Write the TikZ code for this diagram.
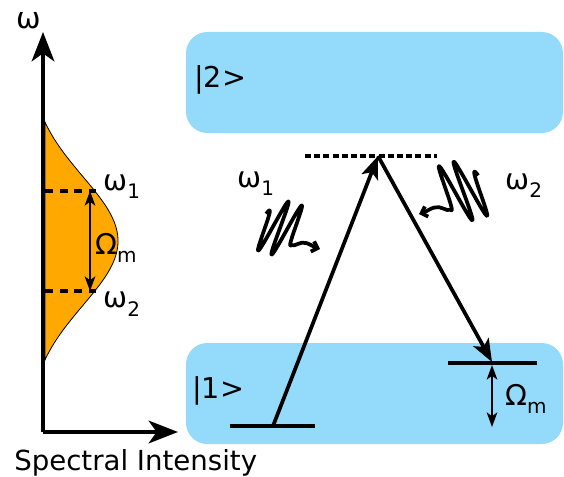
\documentclass[tikz,border=0pt]{standalone}
\usepackage{fontspec}
\setmainfont{DejaVu Sans}
\usetikzlibrary{arrows.meta}
\definecolor{levelblue}{RGB}{148,218,250}
\definecolor{specorange}{RGB}{255,168,0}
\newcommand{\lowsub}[1]{\raisebox{-6pt}{\fontsize{15}{15}\selectfont #1}}
\begin{document}
\begin{tikzpicture}[x=0.75pt,y=-0.75pt,
  lbl/.style={inner sep=0pt, anchor=base west, font=\fontsize{21.5}{24}\selectfont},
  axisline/.style={line width=3pt, -{Stealth[length=22pt,width=17pt,inset=6pt]}},
  trans/.style={line width=2.8pt, -{Stealth[length=17pt,width=13pt,inset=4pt]}},
  levelline/.style={line width=3pt},
  splitting/.style={line width=1.5pt, {Stealth[length=11pt,width=8pt,inset=3pt]}-{Stealth[length=11pt,width=8pt,inset=3pt]}},
  virtual/.style={line width=2.5pt, dash pattern=on 4.5pt off 2.4pt},
  freqline/.style={line width=2.6pt, dash pattern=on 6pt off 5pt},
  statebox/.style={fill=levelblue, rounded corners=16pt},
  photon/.pic={
    \draw[line width=2.8pt, line join=round, -{Straight Barb[length=4pt,width=8pt]}]
      plot[domain=-19:18, samples=170] ({\x + 12*exp(-(\x*\x/420)^2)*sin(25*\x+180)}, {0.15*\x - 26*exp(-(\x*\x/420)^2)*sin(25*\x+180)})
      .. controls (15,19) and (20,13) .. (26,15) .. controls (30,16) and (34,19) .. (40,21);
  }
]
\useasboundingbox (0,0) rectangle (564,477);

% ---------- left: spectrum ----------
\fill[specorange, draw=black, line width=0.6pt]
  plot[domain=122:360, samples=120] ({45+73*(exp(-((\x-241)*(\x-241))/8300)-0.182)/0.818}, \x) -- cycle;

\coordinate (O) at (43,432);
\coordinate (ytop) at (43,32);
\coordinate (xend) at (178,432);
\draw[axisline] (O) -- (ytop);
\draw[axisline] (O) -- (xend);

\coordinate (f1a) at (45,191);
\coordinate (f1b) at (96,191);
\coordinate (f2a) at (45,291);
\coordinate (f2b) at (96,291);
\draw[freqline] (f1a) -- (f1b);
\draw[freqline] (f2a) -- (f2b);
\coordinate (s1) at (90,191);
\coordinate (s2) at (90,291);
\draw[splitting] (s1) -- (s2);

\node[lbl, font=\fontsize{22}{24}\selectfont] (omega) at (16,29) {ω};
\node[lbl] (lw1) at (103,191) {ω\lowsub{1}};
\node[lbl] (lw2) at (103,308) {ω\lowsub{2}};
\node[lbl] (lOm) at (95,255) {Ω\lowsub{m}};
\node[lbl, font=\fontsize{20.7}{24}\selectfont] (xlabel) at (14,470) {Spectral Intensity};

% ---------- right: level scheme ----------
\fill[statebox] (186,32) rectangle (563,133);
\fill[statebox] (186,343) rectangle (563,444);
\node[lbl] (s2lbl) at (194,88) {|2>};
\node[lbl] (s1lbl) at (192,398) {|1>};

\coordinate (va) at (305,156);
\coordinate (vb) at (437,156);
\draw[virtual] (va) -- (vb);

\coordinate (ga) at (230,426);
\coordinate (gb) at (315,426);
\draw[levelline] (ga) -- (gb);
\coordinate (ea) at (448,363);
\coordinate (eb) at (537,363);
\draw[levelline] (ea) -- (eb);

\coordinate (g) at (273,426);
\coordinate (v) at (378,156);
\coordinate (e) at (492,362);
\draw[trans] (g) -- (v);
\draw[trans] (v) -- (e);

\coordinate (m1) at (492,365);
\coordinate (m2) at (492,427);
\draw[splitting] (m1) -- (m2);
\node[lbl] (rOm) at (505,405) {Ω\lowsub{m}};

\node[lbl] (rw1) at (237,188) {ω\lowsub{1}};
\node[lbl] (rw2) at (505,190) {ω\lowsub{2}};

\pic at (280,228) {photon};
\pic[scale=1.1, xscale=-1] at (463,191) {photon};
\end{tikzpicture}
\end{document}
